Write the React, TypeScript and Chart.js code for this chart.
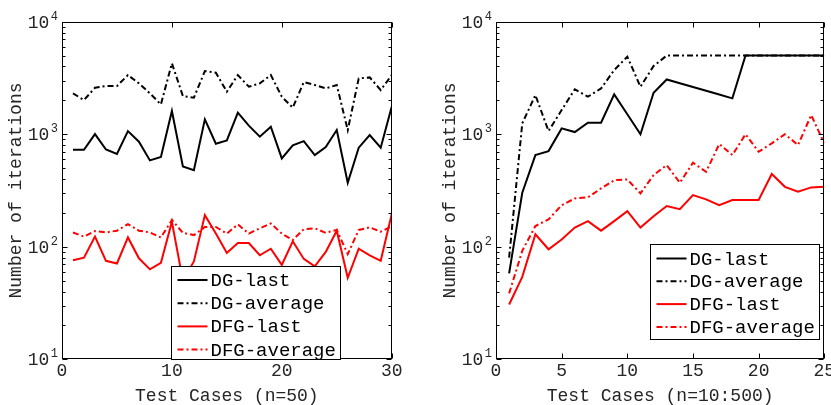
import React, { useEffect, useRef } from 'react';
import { Chart, registerables } from 'chart.js';

Chart.register(...registerables);

// ---------- data ----------
const seriesNames = ['DG-last', 'DG-average', 'DFG-last', 'DFG-average'];

const leftCases = [1, 2, 3, 4, 5, 6, 7, 8, 9, 10, 11, 12, 13, 14, 15, 16, 17, 18, 19, 20, 21, 22, 23, 24, 25, 26, 27, 28, 29, 30];
const leftDGLast = [728, 728, 1003, 731, 667, 1067, 858, 585, 627, 1607, 518, 480, 1356, 824, 881, 1553, 1191, 951, 1166, 610, 796, 869, 653, 769, 1089, 371, 759, 984, 759, 1754];
const leftDGAverage = [2307, 2013, 2588, 2680, 2680, 3357, 2831, 2307, 1841, 4266, 2183, 2110, 3642, 3523, 2388, 3357, 2644, 2831, 3357, 2155, 1722, 2911, 2738, 2553, 2738, 1089, 3133, 3200, 2470, 3357];
const leftDFGLast = [76, 80, 123, 75, 71, 121, 79, 63, 72, 167, 50, 74, 191, 131, 88, 108, 108, 84, 96, 69, 112, 78, 67, 90, 139, 53, 96, 84, 75, 195];
const leftDFGAverage = [134, 123, 138, 134, 139, 159, 139, 134, 121, 173, 133, 127, 150, 150, 131, 158, 131, 146, 161, 131, 115, 143, 146, 133, 141, 86, 141, 149, 136, 152];

const rightCases = [1, 2, 3, 4, 5, 6, 7, 8, 9, 10, 11, 12, 13, 14, 15, 16, 17, 18, 19, 20, 21, 22, 23, 24, 25];
const rightDGLast = [58, 302, 653, 708, 1127, 1045, 1265, 1265, 2259, 1503, 1000, 2338, 3069, 2840, 2630, 2432, 2252, 2084, 5000, 5000, 5000, 5000, 5000, 5000, 5000];
const rightDGAverage = [80, 1250, 2228, 1067, 1641, 2505, 2155, 2553, 3714, 4887, 2644, 4036, 5000, 5000, 5000, 5000, 5000, 5000, 5000, 5000, 5000, 5000, 5000, 5000, 5000];
const rightDFGLast = [30.7, 54, 129, 95, 116, 148, 169, 139, 169, 207, 148, 187, 230, 216, 288, 264, 234, 260, 260, 260, 443, 341, 308, 337, 341];
const rightDFGAverage = [38.5, 92, 153, 175, 234, 269, 275, 330, 390, 397, 298, 434, 532, 371, 558, 464, 818, 653, 1000, 699, 830, 1000, 802, 1479, 830];

const leftXTicks = [0, 10, 20, 30];
const rightXTicks = [0, 5, 10, 15, 20, 25];
const yTickExponents = [1, 2, 3, 4];
const yMinorMultipliers = [2, 3, 4, 5, 6, 7, 8, 9];
const leftXTitle = 'Test Cases (n=50)';
const rightXTitle = 'Test Cases (n=10:500)';
const yTitle = 'Number of iterations';

// ---------- styles ----------
const FONT = "'Liberation Mono', 'DejaVu Sans Mono', monospace";
const TEXT = '#262626';
const DASHDOT = [6, 3, 2, 3];
const seriesStyles = [
  { color: '#000000', dash: [] as number[] },
  { color: '#000000', dash: DASHDOT },
  { color: '#ff0000', dash: [] as number[] },
  { color: '#ff0000', dash: DASHDOT },
];

const axesPlugin = {
  id: 'matlabAxes',
  beforeDraw(chart: any) {
    const { ctx, width, height } = chart;
    ctx.save();
    ctx.fillStyle = '#ffffff';
    ctx.fillRect(0, 0, width, height);
    ctx.restore();
  },
  afterDatasetsDraw(chart: any, _args: any, opts: any) {
    const { ctx, chartArea: a, scales } = chart;
    const xs = scales.x;
    const ys = scales.y;
    ctx.save();
    ctx.strokeStyle = '#000000';
    ctx.lineWidth = 1;
    ctx.setLineDash([]);
    const L = Math.round(a.left) + 0.5;
    const R = Math.round(a.right) - 0.5;
    const T = Math.round(a.top) + 0.5;
    const B = Math.round(a.bottom) - 0.5;
    ctx.strokeRect(L, T, R - L, B - T);
    ctx.beginPath();
    for (const v of opts.xTicks) {
      const px = Math.round(xs.getPixelForValue(v)) + 0.5;
      ctx.moveTo(px, B); ctx.lineTo(px, B - 5);
      ctx.moveTo(px, T); ctx.lineTo(px, T + 5);
    }
    for (const e of yTickExponents) {
      const major = Math.pow(10, e);
      const py = Math.round(ys.getPixelForValue(major)) + 0.5;
      ctx.moveTo(L, py); ctx.lineTo(L + 5, py);
      ctx.moveTo(R, py); ctx.lineTo(R - 5, py);
      if (e < yTickExponents[yTickExponents.length - 1]) {
        for (const m of yMinorMultipliers) {
          const q = Math.round(ys.getPixelForValue(m * major)) + 0.5;
          ctx.moveTo(L, q); ctx.lineTo(L + 3, q);
          ctx.moveTo(R, q); ctx.lineTo(R - 3, q);
        }
      }
    }
    ctx.stroke();

    // y tick labels 10^k
    ctx.fillStyle = TEXT;
    ctx.textBaseline = 'alphabetic';
    ctx.textAlign = 'left';
    for (const e of yTickExponents) {
      const py = ys.getPixelForValue(Math.pow(10, e));
      ctx.font = `18px ${FONT}`;
      const baseW = ctx.measureText('10').width;
      ctx.font = `12px ${FONT}`;
      const expW = ctx.measureText(String(e)).width;
      const right = a.left - 4;
      ctx.fillText(String(e), right - expW, py - 2);
      ctx.font = `18px ${FONT}`;
      ctx.fillText('10', right - expW - 1.5 - baseW, py + 6);
    }

    // legend
    const lg = opts.legend;
    const lx = Math.round(a.left + lg.left) + 0.5;
    const ly = Math.round(a.top + lg.top) + 0.5;
    ctx.fillStyle = '#ffffff';
    ctx.fillRect(lx, ly, lg.width, lg.height);
    ctx.strokeStyle = '#000000';
    ctx.lineWidth = 1;
    ctx.strokeRect(lx, ly, lg.width, lg.height);
    chart.data.datasets.forEach((ds: any, i: number) => {
      const cy = ly + lg.firstRow + i * lg.rowGap;
      ctx.beginPath();
      ctx.strokeStyle = ds.borderColor;
      ctx.lineWidth = 2;
      ctx.setLineDash(ds.borderDash || []);
      ctx.moveTo(lx + 6, cy);
      ctx.lineTo(lx + 36, cy);
      ctx.stroke();
      ctx.setLineDash([]);
      ctx.fillStyle = '#000000';
      ctx.font = `19px ${FONT}`;
      ctx.textBaseline = 'middle';
      ctx.fillText(ds.label, lx + 39, cy + 1);
    });
    ctx.restore();
  },
};

function makeConfig(
  cases: number[],
  series: number[][],
  xTicks: number[],
  xTitle: string,
  padRight: number,
  legend: any
): any {
  return {
    type: 'line',
    data: {
      datasets: series.map((vals, i) => ({
        label: seriesNames[i],
        data: cases.map((c, j) => ({ x: c, y: vals[j] })),
        borderColor: seriesStyles[i].color,
        borderDash: seriesStyles[i].dash,
        borderWidth: 2,
        pointRadius: 0,
        fill: false,
        tension: 0,
      })),
    },
    options: {
      responsive: false,
      animation: false,
      devicePixelRatio: 1,
      layout: { padding: { left: 0, top: 21.7, right: padRight, bottom: 0 } },
      plugins: {
        legend: { display: false },
        tooltip: { enabled: false },
        matlabAxes: { xTicks, legend },
      },
      scales: {
        x: {
          type: 'linear',
          min: xTicks[0],
          max: xTicks[xTicks.length - 1],
          afterBuildTicks: (s: any) => {
            s.ticks = xTicks.map((v) => ({ value: v }));
          },
          ticks: {
            font: { family: FONT, size: 18 },
            color: TEXT,
            padding: 1,
            maxRotation: 0,
            autoSkip: false,
            callback: (v: any) => String(v),
          },
          grid: { display: false, drawTicks: false },
          border: { display: false },
          title: {
            display: true,
            text: xTitle,
            color: TEXT,
            font: { family: FONT, size: 18, lineHeight: 1 },
            padding: { top: 0, bottom: 0 },
          },
          afterFit: (s: any) => {
            s.height = 45.7;
            s.paddingLeft = 0;
            s.paddingRight = 0;
          },
        },
        y: {
          type: 'logarithmic',
          min: 10,
          max: 10000,
          ticks: { display: false },
          grid: { display: false, drawTicks: false },
          border: { display: false },
          title: {
            display: true,
            text: yTitle,
            color: TEXT,
            font: { family: FONT, size: 18, lineHeight: 1 },
            padding: { top: 7, bottom: 0 },
          },
          afterFit: (s: any) => {
            s.width = 62;
            s.paddingTop = 0;
            s.paddingBottom = 0;
          },
        },
      },
    },
    plugins: [axesPlugin],
  };
}

export default function App() {
  const leftRef = useRef<HTMLCanvasElement>(null);
  const rightRef = useRef<HTMLCanvasElement>(null);

  useEffect(() => {
    const left = new Chart(
      leftRef.current as HTMLCanvasElement,
      makeConfig(
        leftCases,
        [leftDGLast, leftDGAverage, leftDFGLast, leftDFGAverage],
        leftXTicks,
        leftXTitle,
        42.3,
        { left: 109, top: 244.5, width: 169, height: 93, firstRow: 13.5, rowGap: 23.2 }
      )
    );
    const right = new Chart(
      rightRef.current as HTMLCanvasElement,
      makeConfig(
        rightCases,
        [rightDGLast, rightDGAverage, rightDFGLast, rightDFGAverage],
        rightXTicks,
        rightXTitle,
        6.7,
        { left: 154, top: 222.6, width: 169, height: 95, firstRow: 14, rowGap: 22.8 }
      )
    );
    return () => {
      left.destroy();
      right.destroy();
    };
  }, []);

  return (
    <div style={{ position: 'absolute', left: 0, top: 0, width: 831, height: 405, background: '#fff', overflow: 'hidden' }}>
      <canvas ref={leftRef} width={434} height={405} style={{ position: 'absolute', left: 0, top: 0, width: 434, height: 405 }} />
      <canvas ref={rightRef} width={397} height={405} style={{ position: 'absolute', left: 434, top: 0, width: 397, height: 405 }} />
    </div>
  );
}
